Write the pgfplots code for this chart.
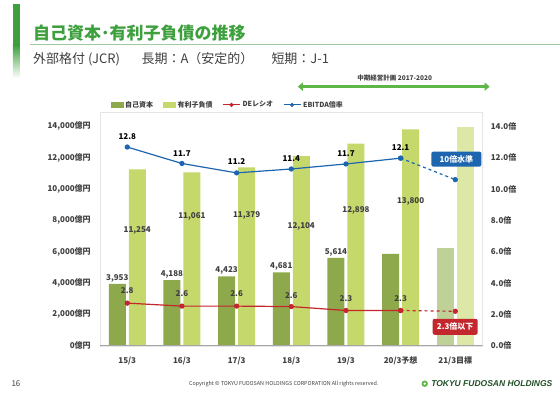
\documentclass[border=0pt]{standalone}
\usepackage{fontspec}
\setmainfont{Noto Sans CJK JP}
\newfontfamily\lat{Liberation Sans}
\usepackage{pgfplots}
\pgfplotsset{compat=1.18}
\usetikzlibrary{arrows.meta}
\definecolor{eq}{HTML}{8EA94B}
\definecolor{debt}{HTML}{C5D86C}
\definecolor{eqL}{HTML}{C0D198}
\definecolor{debtL}{HTML}{DDE7A6}
\definecolor{de}{HTML}{C3262C}
\definecolor{eb}{HTML}{1E65AF}
\definecolor{ttl}{HTML}{3DA03D}
\definecolor{txt}{HTML}{404040}
\definecolor{arr}{HTML}{5DB646}
\begin{document}
\begin{tikzpicture}[x=1pt,y=1pt]
\fill[white] (0,0) rectangle (560,-396);
% header
\fill[ttl] (13,-4) rectangle (20,-45);
\shade[top color=ttl, bottom color=white] (13,-45) rectangle (20,-78);
\node[anchor=west, inner sep=0, text=ttl, font=\fontsize{17}{19}\selectfont\bfseries] at (33,-33) {自己資本･有利子負債の推移};
\draw[color={rgb,255:red,160;green,200;blue,160}, line width=0.8pt] (30,-44) -- (560,-44);
\node[anchor=west, inner sep=0, text=txt, font=\fontsize{13}{15}\selectfont] at (33,-59) {外部格付 (JCR)};
\node[anchor=west, inner sep=0, text=txt, font=\fontsize{13}{15}\selectfont] at (141.5,-59) {長期：A（安定的）};
\node[anchor=west, inner sep=0, text=txt, font=\fontsize{13}{15}\selectfont] at (271.5,-59) {短期：J-1};
% mid-term plan arrow
\draw[arr, line width=2.5pt, {Triangle[width=8pt,length=5pt]}-{Triangle[width=8pt,length=5pt]}] (298,-86.7) -- (490,-86.7);
\node[text=txt, font=\fontsize{6.5}{7}\selectfont\bfseries] at (395,-78) {中期経営計画 2017-2020};

\begin{axis}[
  at={(100pt,-346pt)}, anchor=south west,
  scale only axis, width=383pt, height=234pt,
  xmin=-0.5, xmax=6.5, ymin=0, ymax=14920,
  axis line style={draw=gray!20},
  tick pos=left,
  xtick={0,...,6},
  xticklabels={15/3,16/3,17/3,18/3,19/3,20/3予想,21/3目標},
  xtick style={draw=none}, ytick style={draw=none},
  extra x ticks={-0.5,0.5,1.5,2.5,3.5,4.5,5.5,6.5},
  extra x tick labels={},
  extra x tick style={tick align=outside, major tick length=5pt, tick style={draw=gray!70, line width=0.6pt}},
  ytick={0,2000,...,14000},
  scaled y ticks=false,
  yticklabel={\pgfmathprintnumber[1000 sep={,}]{\tick}億円},
  /pgf/number format/assume math mode=true,
  tick label style={font=\fontsize{8}{9}\selectfont\bfseries, text=txt, inner sep=0pt},
  yticklabel style={xshift=-9pt},
  xticklabel style={yshift=-11pt},
]
\addplot[ybar, bar width=17pt, bar shift=-10pt, fill=eq, draw=none] coordinates {(0,3953)(1,4188)(2,4423)(3,4681)(4,5614)(5,5860)};
\addplot[ybar, bar width=17pt, bar shift=-10pt, fill=eqL, draw=none] coordinates {(6,6220)};
\addplot[ybar, bar width=17pt, bar shift=10pt, fill=debt, draw=none] coordinates {(0,11254)(1,11061)(2,11379)(3,12104)(4,12898)(5,13800)};
\addplot[ybar, bar width=17pt, bar shift=10pt, fill=debtL, draw=none] coordinates {(6,13950)};
\draw[gray!70, line width=0.8pt] (rel axis cs:0,0) -- (rel axis cs:1,0);
% equity labels
\begin{scope}[every node/.style={above, inner sep=1.5pt, text=txt, font=\fontsize{8}{9}\selectfont\bfseries}]
\node[xshift=-10pt] at (axis cs:0,3953) {3,953};
\node[xshift=-10pt] at (axis cs:1,4188) {4,188};
\node[xshift=-10pt] at (axis cs:2,4423) {4,423};
\node[xshift=-10pt] at (axis cs:3,4681) {4,681};
\node[xshift=-10pt] at (axis cs:4,5614) {5,614};
\end{scope}
% debt labels
\begin{scope}[every node/.style={text=txt, font=\fontsize{8}{9}\selectfont\bfseries}]
\node[xshift=10pt] at (axis cs:0,7353) {11,254};
\node[xshift=10pt] at (axis cs:1,8246) {11,061};
\node[xshift=10pt] at (axis cs:2,8290) {11,379};
\node[xshift=10pt] at (axis cs:3,7590) {12,104};
\node[xshift=10pt] at (axis cs:4,8629) {12,898};
\node[xshift=10pt] at (axis cs:5,9184) {13,800};
\end{scope}
\end{axis}

\begin{axis}[
  at={(100pt,-346pt)}, anchor=south west,
  scale only axis, width=383pt, height=234pt,
  xmin=-0.5, xmax=6.5, ymin=0, ymax=14.92,
  axis y line*=right, axis x line=none,
  axis line style={draw=none},
  ytick={0,2,...,14}, ytick style={draw=none},
  yticklabel={\pgfmathprintnumber[fixed,fixed zerofill,precision=1]{\tick}倍},
  /pgf/number format/assume math mode=true,
  tick label style={font=\fontsize{8}{9}\selectfont\bfseries, text=txt, inner sep=0pt},
  yticklabel style={xshift=8pt},
  legend columns=4,
  legend style={at={(0.02,1.03)}, anchor=west, draw=none, fill=none,
    font=\fontsize{7}{8}\selectfont\bfseries, text=txt,
    /tikz/every even column/.append style={column sep=8pt}},
  legend cell align=left,
]
\addlegendimage{legend image code/.code={\fill[eq] (0pt,-2.5pt) rectangle (12pt,2.5pt);}}
\addlegendentry{自己資本}
\addlegendimage{legend image code/.code={\fill[debt] (0pt,-2.5pt) rectangle (12pt,2.5pt);}}
\addlegendentry{有利子負債}
\addlegendimage{de, line width=1pt, mark=*, mark size=1.5pt}
\addlegendentry{DEレシオ}
\addlegendimage{eb, line width=1pt, mark=*, mark size=1.5pt}
\addlegendentry{EBITDA倍率}
\addplot[forget plot, de, line width=1.2pt, mark=*, mark size=2pt] coordinates {(0,2.72)(1,2.53)(2,2.53)(3,2.5)(4,2.25)(5,2.25)};
\addplot[forget plot, de, line width=1.2pt, dashed, mark=*, mark size=2pt, mark options={solid}] coordinates {(5,2.25)(6,2.2)};
\addplot[forget plot, eb, line width=1.2pt, mark=*, mark size=2pt] coordinates {(0,12.68)(1,11.63)(2,11.03)(3,11.28)(4,11.6)(5,11.97)};
\addplot[forget plot, eb, line width=1.2pt, dashed, mark=*, mark size=2pt, mark options={solid}] coordinates {(5,11.97)(6,10.6)};
\begin{scope}[every node/.style={text=black, font=\fontsize{8}{9}\selectfont\bfseries}]
\node at (axis cs:0,13.33) {12.8};
\node at (axis cs:1,12.27) {11.7};
\node at (axis cs:2,11.78) {11.2};
\node at (axis cs:3,11.95) {11.4};
\node at (axis cs:4,12.27) {11.7};
\node at (axis cs:5,12.65) {12.1};
\end{scope}
\begin{scope}[every node/.style={text=txt, font=\fontsize{8}{9}\selectfont\bfseries}]
\node at (axis cs:0,3.49) {2.8};
\node at (axis cs:1,3.3) {2.6};
\node at (axis cs:2,3.3) {2.6};
\node at (axis cs:3,3.23) {2.6};
\node at (axis cs:4,2.98) {2.3};
\node at (axis cs:5,2.98) {2.3};
\end{scope}
\end{axis}
% callouts
\node[fill=eb, text=white, rounded corners=2pt, minimum width=50pt, minimum height=15pt, inner sep=0, font=\fontsize{8}{9}\selectfont\bfseries] at (456.7,-159.2) {10倍水準};
\node[fill=de, text=white, rounded corners=2pt, minimum width=45pt, minimum height=16pt, inner sep=0, font=\fontsize{8}{9}\selectfont\bfseries] at (455.5,-327) {2.3倍以下};
% footer
\node[text=txt, font=\fontsize{8}{9}\selectfont] at (16,-384) {16};
\node[text=txt, font=\fontsize{5.4}{6}\selectfont] at (284,-384) {Copyright © TOKYU FUDOSAN HOLDINGS CORPORATION All rights reserved.};
\fill[arr] (425,-384) circle (3.2pt);
\fill[white] (425,-384) circle (1.3pt);
\node[anchor=east, inner sep=0, text={rgb,255:red,35;green,80;blue,40}, font=\lat\fontsize{8.5}{10}\selectfont\bfseries\itshape] at (553,-384) {TOKYU FUDOSAN HOLDINGS};
\end{tikzpicture}
\end{document}
